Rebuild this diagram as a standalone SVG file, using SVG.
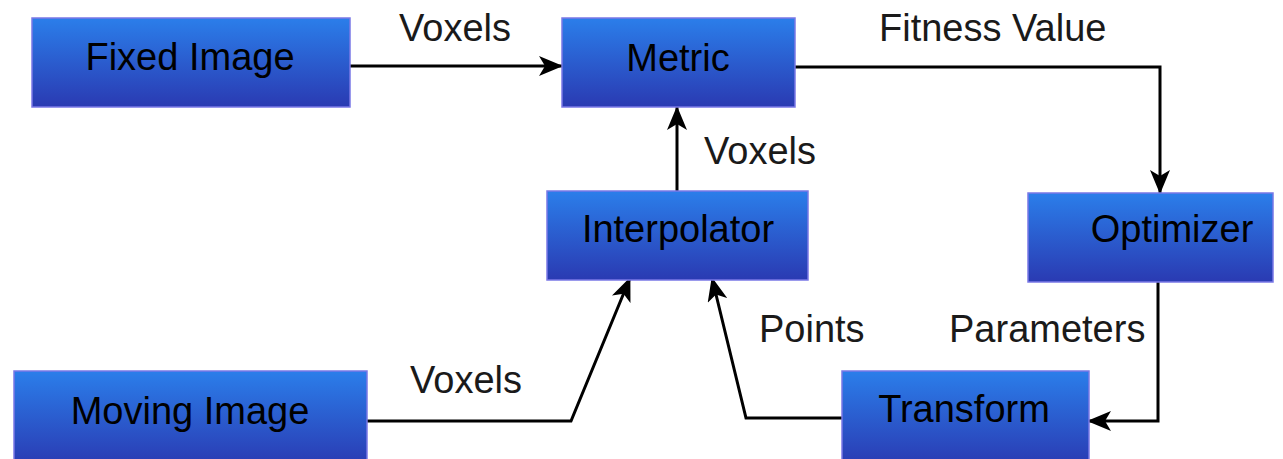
<svg xmlns="http://www.w3.org/2000/svg" width="1283" height="459" viewBox="0 0 1283 459">
<defs>
<linearGradient id="g" x1="0" y1="0" x2="0" y2="1">
<stop offset="0" stop-color="#2b7eea"/>
<stop offset="1" stop-color="#2a3ab2"/>
</linearGradient>
<marker id="ah" viewBox="0 0 24 20" refX="23" refY="10" markerWidth="24" markerHeight="20" markerUnits="userSpaceOnUse" orient="auto">
<path d="M0,0 L24,10 L0,20 L6,10 Z" fill="#000"/>
</marker>
<style>
.box{fill:url(#g);stroke:#7a78e6;stroke-width:1.5}
.nt{font-family:"Liberation Sans",Arial,sans-serif;font-size:38px;fill:#000;text-anchor:middle}
.lb{font-family:"Liberation Sans",Arial,sans-serif;font-size:38px;fill:#1a1a1a}
.cn{fill:none;stroke:#000;stroke-width:3;marker-end:url(#ah)}
</style>
</defs>
<rect width="1283" height="459" fill="#fff"/>
<g id="connectors">
<path class="cn" d="M350,66 L562,66"/>
<path class="cn" d="M795,67 L1160,67 L1160,193"/>
<path class="cn" d="M677,191 L677,107"/>
<path class="cn" d="M1158,282 L1158,421 L1088,421"/>
<path class="cn" d="M842,418 L746,418 L712,278"/>
<path class="cn" d="M367,421 L571,421 L630,278"/>
</g>
<g id="labels">
<text class="lb" x="399" y="41">Voxels</text>
<text class="lb" x="879" y="41">Fitness Value</text>
<text class="lb" x="704" y="164">Voxels</text>
<text class="lb" x="759" y="342">Points</text>
<text class="lb" x="949" y="342">Parameters</text>
<text class="lb" x="410" y="393">Voxels</text>
</g>
<g id="fixed-image"><rect class="box" x="32" y="18" width="318" height="89"/><text class="nt" x="190" y="70">Fixed Image</text></g>
<g id="metric"><rect class="box" x="562" y="18" width="233" height="89"/><text class="nt" x="678" y="71">Metric</text></g>
<g id="interpolator"><rect class="box" x="547" y="191" width="261" height="89"/><text class="nt" x="678" y="242">Interpolator</text></g>
<g id="optimizer"><rect class="box" x="1028" y="193" width="245" height="89"/><text class="nt" x="1172" y="242">Optimizer</text></g>
<g id="moving-image"><rect class="box" x="14" y="371" width="353" height="95"/><text class="nt" x="190" y="424">Moving Image</text></g>
<g id="transform"><rect class="box" x="842" y="371" width="247" height="95"/><text class="nt" x="964" y="422">Transform</text></g>
</svg>
